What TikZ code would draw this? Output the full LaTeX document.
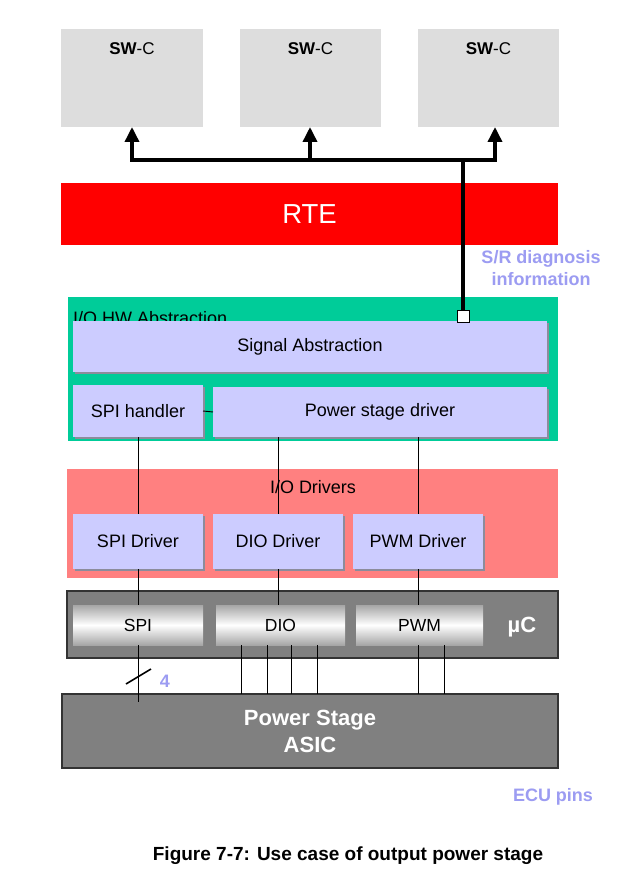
\documentclass[tikz,border=0pt]{standalone}
\usepackage{fontspec}
\setmainfont{Liberation Sans}
\usetikzlibrary{arrows.meta,shadows}
\definecolor{swgray}{HTML}{DDDDDD}
\definecolor{rtered}{HTML}{FF0000}
\definecolor{hwgreen}{HTML}{00CC99}
\definecolor{drvpink}{HTML}{FF8080}
\definecolor{lav}{HTML}{CCCCFF}
\definecolor{lavshadow}{HTML}{8C8C9C}
\definecolor{ucgray}{HTML}{808080}
\definecolor{edgegray}{HTML}{333333}
\definecolor{chipgray}{HTML}{A6A6A6}
\definecolor{notecol}{HTML}{9C9CF2}
\tikzset{
  blk/.style={rectangle, inner sep=0pt, outer sep=0pt, anchor=north west},
  lavbox/.style={blk, fill=lav, drop shadow={shadow xshift=2pt, shadow yshift=-2pt, fill=lavshadow, opacity=1}},
  chip/.style={blk, shading=axis, top color=chipgray, bottom color=chipgray, middle color=white},
  darkbox/.style={blk, fill=ucgray, draw=edgegray, line width=1.5pt},
  txt/.style={font=\fontsize{18}{22}\selectfont, text=black, inner sep=0pt},
  wire/.style={line width=0.9pt, black},
  bus/.style={line width=3.5pt, black},
  busarrow/.style={bus, -{Triangle[width=14pt,length=15pt]}},
  note/.style={font=\fontsize{18}{22}\selectfont\bfseries, text=notecol, align=center, inner sep=0pt},
}
\begin{document}
\begin{tikzpicture}[x=1pt,y=-1pt]
\useasboundingbox (0,0) rectangle (623,874);
\fill[white] (0,0) rectangle (623,874);

% SW-C boxes
\node[blk, fill=swgray, minimum width=142pt, minimum height=98pt] (sw1) at (61,29) {};
\node[blk, fill=swgray, minimum width=141pt, minimum height=98pt] (sw2) at (240,29) {};
\node[blk, fill=swgray, minimum width=141pt, minimum height=98pt] (sw3) at (418,29) {};
\foreach \s in {sw1,sw2,sw3}
  \node[font=\fontsize{17}{20}\selectfont, inner sep=0pt] at ([yshift=-20pt]\s.north) {\textbf{SW}-C};

% RTE
\node[blk, fill=rtered, minimum width=497pt, minimum height=62pt] (rte) at (61,183) {};
\node[font=\fontsize{27.5}{32}\selectfont, text=white, inner sep=0pt] at (rte.center) {RTE};

% S/R label
\node[note] (srlab) at (541,268) {S/R diagnosis\\information};

% I/O HW Abstraction
\node[blk, fill=hwgreen, minimum width=490pt, minimum height=144pt] (hw) at (68,297) {};
\node[txt, anchor=base west] (hwlab) at (73,324) {I/O HW Abstraction};
\node[lavbox, minimum width=474pt, minimum height=51pt] (sig) at (73,321) {};
\node[txt] at (sig.center) {Signal Abstraction};
\node[lavbox, minimum width=130pt, minimum height=52pt] (spih) at (73,385) {};
\node[txt] at (spih.center) {SPI handler};
\node[lavbox, minimum width=334pt, minimum height=50pt] (psd) at (213,387) {};
\node[txt] at (psd.center) {Power stage driver};

% I/O Drivers
\node[blk, fill=drvpink, minimum width=491pt, minimum height=109pt] (drv) at (67,469) {};
\node[txt] at (313,487) {I/O Drivers};
\node[lavbox, minimum width=130pt, minimum height=55pt] (spid) at (73,514) {};
\node[txt] at (spid.center) {SPI Driver};
\node[lavbox, minimum width=130pt, minimum height=55pt] (diod) at (213,514) {};
\node[txt] at (diod.center) {DIO Driver};
\node[lavbox, minimum width=130pt, minimum height=55pt] (pwmd) at (353,514) {};
\node[txt] at (pwmd.center) {PWM Driver};

% uC
\node[darkbox, minimum width=491pt, minimum height=67pt] (uc) at (67,591) {};
\node[chip, minimum width=130pt, minimum height=40pt] (spi) at (73,605) {};
\node[txt, font=\fontsize{17.5}{20}\selectfont] at (spi.center) {SPI};
\node[chip, minimum width=129pt, minimum height=40pt] (dio) at (216,605) {};
\node[txt, font=\fontsize{17.5}{20}\selectfont] at (dio.center) {DIO};
\node[chip, minimum width=127pt, minimum height=40pt] (pwm) at (356,605) {};
\node[txt, font=\fontsize{17.5}{20}\selectfont] at (pwm.center) {PWM};
\node[font=\fontsize{22}{25}\selectfont\bfseries, text=white, inner sep=0pt] (uclab) at (522,627) {µC};

% Power Stage ASIC
\node[darkbox, minimum width=496pt, minimum height=74pt] (asic) at (62,694) {};
\node[font=\fontsize{22}{27}\selectfont\bfseries, text=white, align=center, inner sep=0pt] at (310,731.5) {Power Stage\\ASIC};

% ECU pins & caption
\node[note] (ecu) at (553,797) {ECU pins};
\node[font=\fontsize{19}{22}\selectfont\bfseries, inner sep=0pt] (cap) at (348,856) {Figure 7-7: Use case of output power stage};

% wires
\draw[wire] (spih.east) -- (psd.west);
\draw[wire] (spih.south) -- (spid.north);
\draw[wire] (diod.north |- psd.south) -- (diod.north);
\draw[wire] (pwmd.north |- psd.south) -- (pwmd.north);
\draw[wire] (spid.south) -- (spid.south |- spi.north);
\draw[wire] (diod.south) -- (diod.south |- dio.north);
\draw[wire] (pwmd.south) -- (pwmd.south |- pwm.north);
\draw[wire] (spid.south |- spi.south) -- ([yshift=-8pt]spid.south |- asic.north);
\foreach \x in {241,267,291,317,418,444}
  \draw[wire] (\x,645) -- (\x,694);
\draw[line width=1.6pt] (126,684) -- (151,669);
\node[font=\fontsize{18}{22}\selectfont\bfseries, text=notecol, inner sep=0pt] (four) at (165,681) {4};

% bus
\node[rectangle, draw=black, fill=white, line width=1pt, minimum size=12pt, inner sep=0pt] (sq) at (463,316.5) {};
\coordinate (bj) at (463,160);
\coordinate (b1) at (132,160);
\coordinate (b2) at (310,160);
\coordinate (b3) at (495,160);
\draw[bus] (sq.north) -- (bj);
\draw[bus] ([xshift=-1.75pt]b1) -- ([xshift=1.75pt]b3);
\draw[busarrow] (b1) -- (b1 |- sw1.south);
\draw[busarrow] (b2) -- (b2 |- sw2.south);
\draw[busarrow] (b3) -- (b3 |- sw3.south);
\end{tikzpicture}
\end{document}
